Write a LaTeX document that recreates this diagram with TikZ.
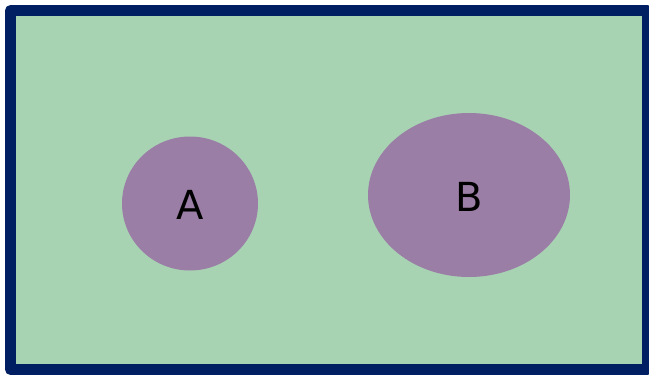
\documentclass[tikz,border=0pt]{standalone}
\usepackage{fontspec}
\setmainfont{DejaVu Sans}
\definecolor{bggreen}{HTML}{A8D3B3}
\definecolor{navy}{HTML}{001E62}
\definecolor{blob}{HTML}{9B7EA6}
\begin{document}
\begin{tikzpicture}[x=1pt,y=-1pt,
  frame/.style={draw=navy,line width=11pt,fill=bggreen,line join=round},
  blobshape/.style={fill=blob},
  lbl/.style={font=\fontsize{40}{42}\selectfont,text=black}]
\useasboundingbox (0,0) rectangle (649,375);
\begin{scope}
\clip (0,0) rectangle (649,375);
\draw[frame] (10.5,10.5) rectangle (647.5,369.5);
\end{scope}
\fill[blobshape] (190,203.5) ellipse [x radius=68, y radius=67];
\fill[blobshape] (469,195) ellipse [x radius=101, y radius=82];
\node[lbl] (a) at (190,205) {A};
\node[lbl] (b) at (469,197) {B};
\end{tikzpicture}
\end{document}
